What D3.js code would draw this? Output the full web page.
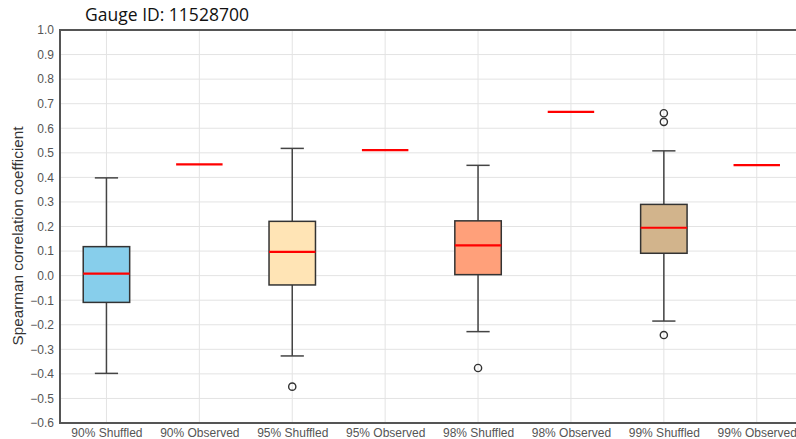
<!DOCTYPE html>
<html>
<head>
<meta charset="utf-8">
<script src="https://cdn.jsdelivr.net/npm/d3@7"></script>
<style>
  html, body { margin: 0; padding: 0; background: #fff; }
  svg { display: block; }
</style>
</head>
<body>
<svg id="chart" width="796" height="439"></svg>
<script>
// Category labels along the x axis
const categories = [
  "90% Shuffled", "90% Observed", "95% Shuffled", "95% Observed",
  "98% Shuffled", "98% Observed", "99% Shuffled", "99% Observed"
];

// Box summaries of the shuffled series (one entry per threshold)
const shuffledPos   = [1, 3, 5, 7];
const whiskerLow    = [-0.398, -0.327, -0.228, -0.185];
const q1            = [-0.109, -0.038, 0.004, 0.091];
const median        = [0.008, 0.097, 0.123, 0.195];
const q3            = [0.118, 0.221, 0.223, 0.290];
const whiskerHigh   = [0.398, 0.518, 0.449, 0.508];
const outliers      = [[], [-0.452], [-0.376], [0.661, 0.626, -0.242]];
const boxColors     = ["#87CEEB", "#FFE4B5", "#FFA07A", "#D2B48C"];

// Observed correlation for each threshold
const observedPos   = [2, 4, 6, 8];
const observed      = [0.453, 0.511, 0.667, 0.450];

const yTicks = d3.range(-6, 11).map(d => d / 10);

const svg = d3.select("#chart");
const margin = { left: 60, top: 30, bottom: 423 };
const step = 92.9;

const x = d3.scaleLinear().domain([0.5, 8.5]).range([margin.left, margin.left + 8 * step]);
const y = d3.scaleLinear().domain([-0.6, 1.0]).range([margin.bottom, margin.top]);

// Grid
const grid = svg.append("g");
grid.selectAll("line.h").data(yTicks).join("line")
  .attr("x1", x(0.5)).attr("x2", x(8.5))
  .attr("y1", d => y(d)).attr("y2", d => y(d))
  .attr("stroke", "#e3e3e3").attr("stroke-width", 1);
grid.selectAll("line.v").data(d3.range(1, 9)).join("line")
  .attr("x1", d => x(d)).attr("x2", d => x(d))
  .attr("y1", y(-0.6)).attr("y2", y(1.0))
  .attr("stroke", "#e3e3e3").attr("stroke-width", 1);

// Axes
const fmt = d => d3.format(".1f")(d).replace("-", "\u2212");
const yAxis = d3.axisLeft(y).tickValues(yTicks).tickFormat(fmt).tickSize(0).tickPadding(6);
const gy = svg.append("g").attr("transform", `translate(${x(0.5)},0)`).call(yAxis);
gy.select(".domain").remove();
gy.selectAll("text").attr("fill", "#555").attr("font-family", "Liberation Sans, Arial, sans-serif").attr("font-size", 12);

const xAxis = d3.axisBottom(x).tickValues(d3.range(1, 9)).tickFormat(d => categories[d - 1]).tickSize(0).tickPadding(5);
const gx = svg.append("g").attr("transform", `translate(0,${y(-0.6)})`).call(xAxis);
gx.select(".domain").remove();
gx.selectAll("text").attr("fill", "#555").attr("font-family", "Liberation Sans, Arial, sans-serif").attr("font-size", 12);

// Frame
svg.append("rect")
  .attr("x", x(0.5)).attr("y", y(1.0))
  .attr("width", x(8.5) - x(0.5)).attr("height", y(-0.6) - y(1.0))
  .attr("fill", "none").attr("stroke", "#555").attr("stroke-width", 2);

// Boxes
const boxHalf = 0.25, capHalf = 0.125;
const boxes = svg.append("g").selectAll("g").data(shuffledPos.map((p, i) => ({
  p, lo: whiskerLow[i], q1: q1[i], med: median[i], q3: q3[i], hi: whiskerHigh[i],
  out: outliers[i], color: boxColors[i]
}))).join("g");

boxes.append("line")
  .attr("x1", d => x(d.p)).attr("x2", d => x(d.p))
  .attr("y1", d => y(d.hi)).attr("y2", d => y(d.q3))
  .attr("stroke", "#444").attr("stroke-width", 1.5);
boxes.append("line")
  .attr("x1", d => x(d.p)).attr("x2", d => x(d.p))
  .attr("y1", d => y(d.q1)).attr("y2", d => y(d.lo))
  .attr("stroke", "#444").attr("stroke-width", 1.5);
boxes.append("line")
  .attr("x1", d => x(d.p - capHalf)).attr("x2", d => x(d.p + capHalf))
  .attr("y1", d => y(d.hi)).attr("y2", d => y(d.hi))
  .attr("stroke", "#444").attr("stroke-width", 1.5);
boxes.append("line")
  .attr("x1", d => x(d.p - capHalf)).attr("x2", d => x(d.p + capHalf))
  .attr("y1", d => y(d.lo)).attr("y2", d => y(d.lo))
  .attr("stroke", "#444").attr("stroke-width", 1.5);
boxes.append("rect")
  .attr("x", d => x(d.p - boxHalf)).attr("width", d => x(d.p + boxHalf) - x(d.p - boxHalf))
  .attr("y", d => y(d.q3)).attr("height", d => y(d.q1) - y(d.q3))
  .attr("fill", d => d.color).attr("stroke", "#333").attr("stroke-width", 1.5);
boxes.append("line")
  .attr("x1", d => x(d.p - boxHalf)).attr("x2", d => x(d.p + boxHalf))
  .attr("y1", d => y(d.med)).attr("y2", d => y(d.med))
  .attr("stroke", "#ff0000").attr("stroke-width", 2.2);
boxes.selectAll("circle").data(d => d.out.map(v => ({ p: d.p, v }))).join("circle")
  .attr("cx", d => x(d.p)).attr("cy", d => y(d.v)).attr("r", 3.6)
  .attr("fill", "none").attr("stroke", "#333").attr("stroke-width", 1.4);

// Observed values
svg.append("g").selectAll("line").data(observedPos.map((p, i) => ({ p, v: observed[i] }))).join("line")
  .attr("x1", d => x(d.p - boxHalf)).attr("x2", d => x(d.p + boxHalf))
  .attr("y1", d => y(d.v)).attr("y2", d => y(d.v))
  .attr("stroke", "#ff0000").attr("stroke-width", 2.2);

// Labels
svg.append("text")
  .attr("x", 167).attr("y", 21).attr("text-anchor", "middle")
  .attr("font-family", "Open Sans, Noto Sans, sans-serif").attr("font-size", 17.5)
  .attr("fill", "#111").text("Gauge ID: 11528700");

svg.append("text")
  .attr("transform", `translate(23,236) rotate(-90)`).attr("text-anchor", "middle")
  .attr("font-family", "Liberation Sans, Arial, sans-serif").attr("font-size", 15.3)
  .attr("fill", "#333").text("Spearman correlation coefficient");
</script>
</body>
</html>
